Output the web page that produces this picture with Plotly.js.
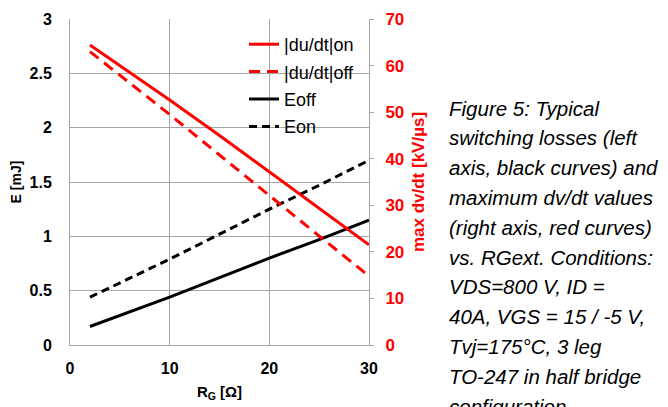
<!DOCTYPE html>
<html>
<head>
<meta charset="utf-8">
<script src="https://cdn.plot.ly/plotly-3.0.1.min.js"></script>
<style>html,body{margin:0;padding:0;background:#fff;}#chart{width:668px;height:407px;}</style>
</head>
<body>
<div id="chart"></div>
<script>
// Data
const rg = [2, 5, 10, 15, 20, 25, 30];
const duOn = [64.4, 60.0, 52.6, 45.0, 37.2, 29.4, 21.5];   // kV/µs
const duOff = [63.0, 58.0, 49.5, 40.8, 32.0, 23.4, 14.8];  // kV/µs
const eOff = [0.17, 0.27, 0.44, 0.62, 0.80, 0.97, 1.15];   // mJ
const eOn = [0.44, 0.57, 0.79, 1.02, 1.25, 1.47, 1.70];    // mJ
const seriesNames = ['|du/dt|on', '|du/dt|off', 'Eoff', 'Eon'];
const captionLines = [
  'Figure 5: Typical',
  'switching losses (left',
  'axis, black curves) and',
  'maximum dv/dt values',
  '(right axis, red curves)',
  'vs. RGext. Conditions:',
  'VDS=800 V, ID =',
  '40A, VGS = 15 / -5 V,',
  'Tvj=175°C, 3 leg',
  'TO-247 in half bridge',
  'configuration'
];

const RED = '#ff0000';
const GRID = '#a6a6a6';
const FONT = 'Liberation Sans, Arial, sans-serif';

const traces = [
  {x: rg, y: duOn, name: seriesNames[0], yaxis: 'y2', mode: 'lines', legendgroup: 'a',
   line: {color: RED, width: 3}},
  {x: rg, y: duOff, name: seriesNames[1], yaxis: 'y2', mode: 'lines', legendgroup: 'b',
   line: {color: RED, width: 3, dash: '11px,7px'}},
  {x: rg, y: eOff, name: seriesNames[2], yaxis: 'y', mode: 'lines', legendgroup: 'c',
   line: {color: '#000', width: 3}},
  {x: rg, y: eOn, name: seriesNames[3], yaxis: 'y', mode: 'lines', legendgroup: 'd',
   line: {color: '#000', width: 3, dash: '8px,5px'}}
];

const annotations = captionLines.map((t, i) => ({
  text: t, xref: 'paper', yref: 'paper', x: (447 - 70) / 299, xanchor: 'left',
  y: (345 - (108 + i * 29.8)) / 326, yanchor: 'middle', showarrow: false,
  font: {family: FONT, size: 20.5, color: '#000', style: 'italic'}
}));

const layout = {
  width: 668, height: 407,
  margin: {l: 70, r: 299, t: 19, b: 62, pad: 0},
  paper_bgcolor: '#fff', plot_bgcolor: '#fff',
  font: {family: FONT, color: '#000'},
  showlegend: true,
  legend: {
    x: (244 - 70) / 299, y: 1 - (26 - 19) / 326, xanchor: 'left', yanchor: 'top',
    bgcolor: 'rgba(0,0,0,0)', borderwidth: 0, tracegroupgap: 1,
    font: {family: FONT, size: 18, color: '#000'}
  },
  xaxis: {
    range: [0, 30], dtick: 10, tick0: 0, showgrid: true, gridcolor: GRID, gridwidth: 1,
    zeroline: false, showline: true, linecolor: GRID, linewidth: 1, ticks: '',
    ticklabelstandoff: 9,
    tickfont: {family: FONT, size: 16, weight: 'bold', color: '#000'},
    title: {text: 'R<sub>G</sub> [Ω]', standoff: 10, font: {family: FONT, size: 15, weight: 'bold', color: '#000'}}
  },
  yaxis: {
    range: [0, 3], dtick: 0.5, tick0: 0, showgrid: true, gridcolor: GRID, gridwidth: 1,
    zeroline: false, showline: true, linecolor: GRID, linewidth: 1, ticks: '',
    ticklabelstandoff: 14,
    tickfont: {family: FONT, size: 16, weight: 'bold', color: '#000'},
    title: {text: 'E [mJ]', standoff: 4, font: {family: FONT, size: 14, weight: 'bold', color: '#000'}}
  },
  yaxis2: {
    range: [0, 70], dtick: 10, tick0: 0, overlaying: 'y', side: 'right', showgrid: false,
    zeroline: false, showline: true, linecolor: GRID, linewidth: 1,
    ticks: 'outside', ticklen: 4, tickcolor: GRID, tickwidth: 1, ticklabelstandoff: 8,
    tickfont: {family: FONT, size: 17, weight: 'bold', color: RED},
    title: {text: 'max dv/dt [kV/µs]', standoff: 8, font: {family: FONT, size: 17, weight: 'bold', color: RED}}
  },
  annotations: annotations
};

Plotly.newPlot('chart', traces, layout, {staticPlot: true, displayModeBar: false});
</script>
</body>
</html>
